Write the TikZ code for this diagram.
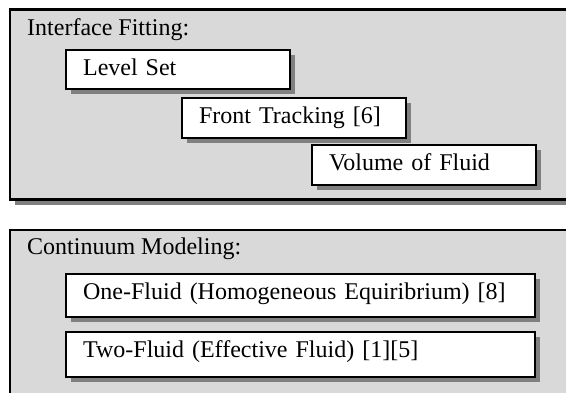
\documentclass[tikz,border=0pt]{standalone}
\usepackage{fontspec}
\setmainfont{Liberation Serif}
\usetikzlibrary{shadows}

\tikzset{
  solidshadow/.style={drop shadow={shadow xshift=5pt, shadow yshift=-5pt, fill=black!50, opacity=1}},
  panel/.style={draw, line width=2.2pt, fill=black!15, solidshadow},
  methodbox/.style={draw, line width=2.2pt, fill=white, solidshadow, anchor=north west,
    inner xsep=17pt, inner ysep=0pt, text height=25pt, align=left},
  heading/.style={anchor=base west, inner sep=0pt}
}

\begin{document}
\begin{tikzpicture}[x=1pt, y=-1pt, font=\fontsize{24}{28}\selectfont]
\useasboundingbox (0,0) rectangle (566,392);
\clip (0,0) rectangle (566,392);

% interface fitting methods, stepped to the right
\draw[panel] (10,9.5) rectangle (600,199.5);
\node[heading] (fitting) at (27,35) {Interface Fitting:};
\foreach \name/\txt/\x/\y/\d in {levelset/Level Set/65/49/14, fronttrack/Front Tracking [6]/181/97/15, vof/Volume of Fluid/311/144/15}
  \node[methodbox, text width=190pt, text depth=\d pt] (\name) at (\x,\y) {\txt};

% continuum models
\draw[panel] (10,230) rectangle (600,430);
\node[heading] (continuum) at (27,254) {Continuum Modeling:};
\node[methodbox, text width=435pt, text depth=18pt] (onefluid) at (65,273) {One-Fluid (Homogeneous Equiribrium) [8]};
\node[methodbox, text width=435pt, text depth=20pt] (twofluid) at (65,331) {Two-Fluid (Effective Fluid) [1][5]};
\end{tikzpicture}
\end{document}
